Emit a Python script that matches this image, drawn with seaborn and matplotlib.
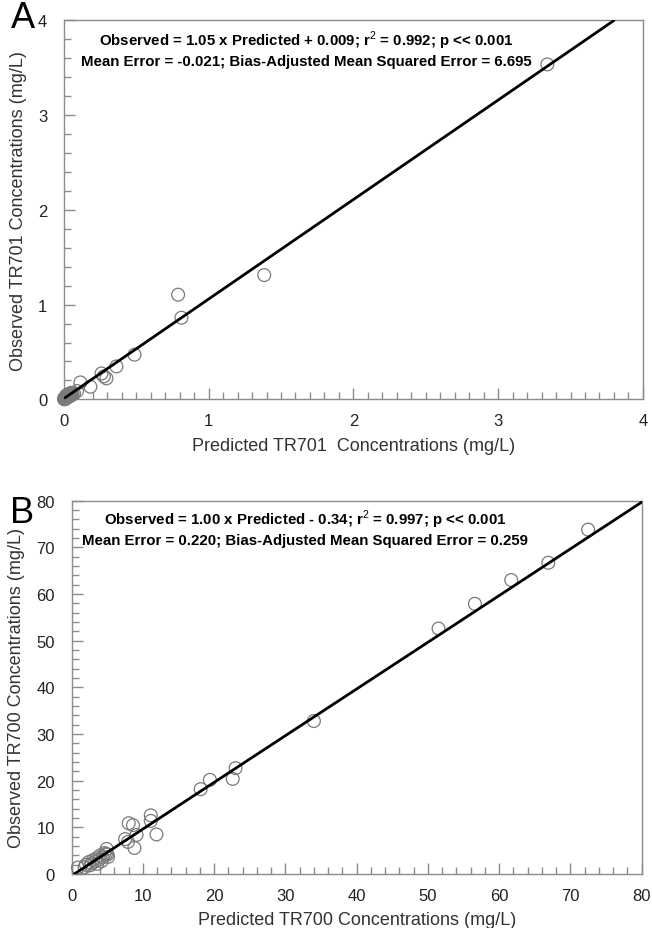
"""
plot.py - Observed vs predicted TR701 / TR700 concentrations (two panels).
"""

import numpy as np
import pandas as pd
import seaborn as sns
import matplotlib.pyplot as plt
from matplotlib.ticker import MultipleLocator

# ---------------------------------------------------------------
# Data
# ---------------------------------------------------------------

# Panel A - TR701
tr701_predicted = [3.34, 1.384, 0.789, 0.812, 0.488, 0.363, 0.260, 0.276, 0.294,
                   0.114, 0.183, 0.091,
                   0.002, 0.005, 0.008, 0.010, 0.012, 0.015, 0.018, 0.020, 0.022,
                   0.025, 0.028, 0.030, 0.033, 0.035, 0.038, 0.040, 0.045, 0.050,
                   0.055, 0.060, 0.004, 0.001, 0.015, 0.030, 0.050, 0.070]
tr701_observed = [3.535, 1.312, 1.105, 0.862, 0.472, 0.348, 0.274, 0.243, 0.222,
                  0.179, 0.134, 0.088,
                  0.004, 0.003, 0.010, 0.006, 0.015, 0.012, 0.020, 0.017, 0.028,
                  0.022, 0.032, 0.026, 0.038, 0.030, 0.045, 0.036, 0.050, 0.042,
                  0.060, 0.052, 0.001, 0.008, 0.040, 0.055, 0.070, 0.062]
tr701_slope, tr701_intercept = 1.05, 0.009
tr701_line_x = [0.0, 3.80]
tr701_text = ("Observed = 1.05 x Predicted + 0.009; r$^{2}$ = 0.992; p << 0.001\n"
              "Mean Error = -0.021; Bias-Adjusted Mean Squared Error = 6.695")

# Panel B - TR700
tr700_predicted = [72.5, 66.9, 61.7, 56.6, 51.5, 34.0,
                   23.0, 22.6, 19.4, 18.1, 11.1, 11.1, 11.9, 8.0, 8.6, 9.1,
                   7.5, 7.9, 8.8, 4.9, 4.8, 0.87,
                   2.0, 2.4, 2.8, 3.0, 3.3, 3.5, 3.8, 4.0, 4.3, 4.6, 5.0,
                   1.8, 2.6, 3.6, 4.2, 5.1]
tr700_observed = [73.8, 66.7, 63.0, 57.9, 52.6, 32.8,
                  22.7, 20.4, 20.2, 18.2, 12.6, 11.4, 8.5, 10.9, 10.5, 8.4,
                  7.5, 6.9, 5.6, 5.4, 4.3, 1.4,
                  2.0, 2.6, 2.3, 3.0, 2.7, 3.4, 3.1, 4.0, 3.6, 4.5, 4.2,
                  1.5, 1.9, 2.2, 2.8, 3.7]
tr700_slope, tr700_intercept = 1.00, -0.34
tr700_line_x = [0.34, 80.0]
tr700_text = ("Observed = 1.00 x Predicted - 0.34; r$^{2}$ = 0.997; p << 0.001\n"
              "Mean Error = 0.220; Bias-Adjusted Mean Squared Error = 0.259")

# ---------------------------------------------------------------
# Styling
# ---------------------------------------------------------------
sns.set_style("ticks")
plt.rcParams["font.family"] = ["Liberation Sans", "DejaVu Sans"]
plt.rcParams["mathtext.fontset"] = "custom"
plt.rcParams["mathtext.rm"] = "Liberation Sans"
plt.rcParams["mathtext.bf"] = "Liberation Sans:bold"

SPINE = "#8c8c8c"
MARKER = "#7a7a7a"
TEXT = "#333333"


def draw_panel(ax, predicted, observed, slope, intercept, line_x, note, note_x,
               note_y, lim, major, minor_x, minor_y, xlabel, ylabel, letter,
               letter_x, letter_y):
    df = pd.DataFrame({"predicted": predicted, "observed": observed})
    sns.scatterplot(data=df, x="predicted", y="observed", ax=ax,
                    marker="o", s=85, facecolor="none", edgecolor=MARKER,
                    linewidth=0.9, clip_on=False, zorder=3)

    fit = pd.DataFrame({"x": line_x})
    fit["y"] = slope * fit["x"] + intercept
    sns.lineplot(data=fit, x="x", y="y", ax=ax, color="black", linewidth=2.0,
                 zorder=4)

    ax.set_xlim(0, lim)
    ax.set_ylim(0, lim)
    ax.xaxis.set_major_locator(MultipleLocator(major))
    ax.yaxis.set_major_locator(MultipleLocator(major))
    ax.xaxis.set_minor_locator(MultipleLocator(minor_x))
    ax.yaxis.set_minor_locator(MultipleLocator(minor_y))
    ax.tick_params(which="major", direction="in", length=8, width=1,
                   color=SPINE, labelsize=12, labelcolor="#222222", pad=12)
    ax.tick_params(which="minor", direction="in", length=5, width=1, color=SPINE)
    ax.tick_params(axis="x", pad=10)
    for side in ax.spines.values():
        side.set_color(SPINE)
        side.set_linewidth(1.0)

    ax.set_xlabel(xlabel, fontsize=13, color=TEXT, labelpad=6)
    ax.set_ylabel(ylabel, fontsize=13, color=TEXT, labelpad=8)
    ax.text(note_x, note_y, note, transform=ax.transAxes, ha="center", va="top",
            fontsize=10.8, fontweight="bold", color="black", linespacing=1.3)
    ax.text(letter_x, letter_y, letter, transform=ax.transAxes, ha="left",
            va="center", fontsize=26, color="black")


fig = plt.figure(figsize=(6.52, 9.29), dpi=100)
ax_a = fig.add_axes([0.098, 0.569, 0.888, 0.408])
ax_b = fig.add_axes([0.110, 0.058, 0.874, 0.402])

draw_panel(ax_a, tr701_predicted, tr701_observed, tr701_slope, tr701_intercept,
           tr701_line_x, tr701_text, 0.418, 0.978, 4, 1, 0.1, 0.2,
           "Predicted TR701  Concentrations (mg/L)",
           "Observed TR701 Concentrations (mg/L)", "A", -0.092, 1.008)
draw_panel(ax_b, tr700_predicted, tr700_observed, tr700_slope, tr700_intercept,
           tr700_line_x, tr700_text, 0.41, 0.982, 80, 10, 2, 2,
           "Predicted TR700 Concentrations (mg/L)",
           "Observed TR700 Concentrations (mg/L)", "B", -0.108, 0.968)

fig.savefig("out.png", dpi=100)
